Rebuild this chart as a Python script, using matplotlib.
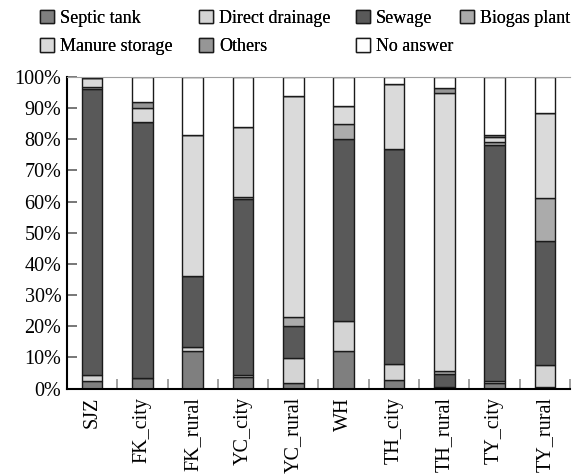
import matplotlib.pyplot as plt
import numpy as np

plt.rcParams['font.family'] = 'serif'
plt.rcParams['font.serif'] = ['Liberation Serif', 'Times New Roman', 'DejaVu Serif']

sites = ['SJZ', 'FK_city', 'FK_rural', 'YC_city', 'YC_rural',
         'WH', 'TH_city', 'TH_rural', 'TY_city', 'TY_rural']

# share of households (%) per destination, stacked bottom to top
septic_tank = [2.4, 3.3, 12.2, 3.6, 1.7, 12.1, 2.8, 0.0, 1.7, 0.5]
direct_drainage = [2.1, 0.0, 1.1, 0.8, 8.1, 9.7, 5.0, 0.6, 0.9, 7.0]
sewage = [91.7, 82.2, 22.8, 56.3, 10.4, 58.2, 68.9, 4.1, 75.5, 39.8]
biogas_plant = [0.6, 0.0, 0.0, 0.8, 2.9, 4.7, 0.0, 1.1, 0.9, 13.9]
manure_storage = [2.7, 4.6, 45.2, 22.3, 70.8, 5.9, 21.0, 88.9, 1.6, 27.3]
others = [0.0, 1.7, 0.0, 0.0, 0.0, 0.0, 0.0, 1.6, 0.8, 0.0]
no_answer = [0.5, 8.2, 18.7, 16.2, 6.1, 9.4, 2.3, 3.7, 18.6, 11.5]

series = [
    ('Septic tank', septic_tank, '#7f7f7f'),
    ('Direct drainage', direct_drainage, '#d4d4d4'),
    ('Sewage', sewage, '#595959'),
    ('Biogas plant', biogas_plant, '#ababab'),
    ('Manure storage', manure_storage, '#dadada'),
    ('Others', others, '#969696'),
    ('No answer', no_answer, '#ffffff'),
]

fig = plt.figure(figsize=(5.74, 4.75), dpi=100)
ax = fig.add_axes([0.1167, 0.1817, 0.8763, 0.6568])

x = np.arange(len(sites))
bottom = np.zeros(len(sites))
handles = []
for name, vals, col in series:
    b = ax.bar(x, vals, 0.41, bottom=bottom, color=col, edgecolor='#1a1a1a',
               linewidth=1.0, label=name)
    handles.append(b)
    bottom += np.array(vals)

ax.set_xlim(-0.5, len(sites) - 0.5)
ax.set_ylim(0, 100)
ax.set_yticks(np.arange(0, 101, 10))
ax.set_yticklabels([f'{v}%' for v in range(0, 101, 10)], fontsize=14.5)
ax.set_xticks(x)
ax.set_xticklabels(sites, rotation=90, fontsize=14.5)
ax.set_xticks(np.arange(0.5, len(sites), 1), minor=True)
ax.tick_params(axis='x', which='major', length=0, pad=6)
ax.tick_params(axis='x', which='minor', direction='in', length=7,
               color='#909090', width=1.2)
ax.tick_params(axis='y', direction='in', length=7, color='#606060',
               width=1.2, pad=4)

ax.spines['right'].set_visible(False)
ax.spines['top'].set_color('#a0a0a0')
ax.spines['left'].set_linewidth(1.5)
ax.spines['bottom'].set_linewidth(1.5)

# legend laid out as fixed-position columns, two rows
columns = [[0, 4], [1, 5], [2, 6], [3]]
col_x = [40, 199, 356, 460]
for idx, cx in zip(columns, col_x):
    leg = fig.legend([handles[i] for i in idx], [series[i][0] for i in idx],
                     loc='upper left', bbox_to_anchor=(cx / 574, 1 - 10 / 475),
                     frameon=False, fontsize=13, handlelength=0.75,
                     handleheight=0.75, handletextpad=0.35, labelspacing=0.62,
                     borderpad=0, borderaxespad=0)
    fig.add_artist(leg)

fig.savefig('out.png', dpi=100)
